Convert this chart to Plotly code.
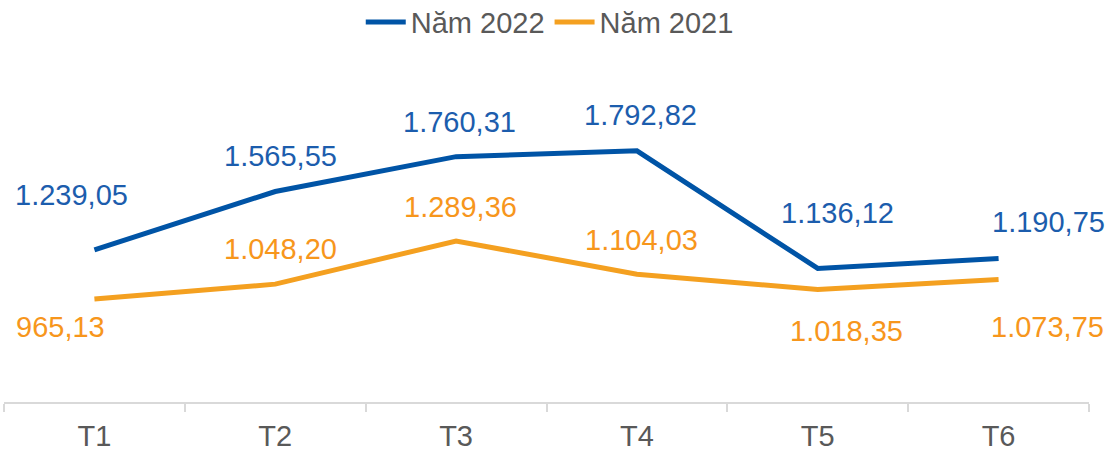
import plotly.graph_objects as go

categories = ["T1", "T2", "T3", "T4", "T5", "T6"]
nam_2022 = [1239.05, 1565.55, 1760.31, 1792.82, 1136.12, 1190.75]
nam_2021 = [965.13, 1048.20, 1289.36, 1104.03, 1018.35, 1073.75]
labels_2022 = ["1.239,05", "1.565,55", "1.760,31", "1.792,82", "1.136,12", "1.190,75"]
labels_2021 = ["965,13", "1.048,20", "1.289,36", "1.104,03", "1.018,35", "1.073,75"]

# label offsets (pixels): x right, y down
off_2022 = [(-23, -55), (5, -36), (3, -35), (4, -36), (20, -55), (50, -37)]
off_2021 = [(-34, 28), (5, -35), (4, -34), (5, -34), (29, 42), (49, 47)]

BLUE = "#0054A6"
ORANGE = "#F4A020"
BLUE_T = "#1C5DAD"
ORANGE_T = "#F7961C"
FONT = "Liberation Sans, Arial"

fig = go.Figure()
fig.add_trace(go.Scatter(x=categories, y=nam_2022, mode="lines", name="Năm 2022",
                         line=dict(color=BLUE, width=5)))
fig.add_trace(go.Scatter(x=categories, y=nam_2021, mode="lines", name="Năm 2021",
                         line=dict(color=ORANGE, width=5)))

ann = []
for c, v, t, (dx, dy) in zip(categories, nam_2022, labels_2022, off_2022):
    ann.append(dict(x=c, y=v, text=t, showarrow=False, xshift=dx, yshift=-dy,
                    font=dict(color=BLUE_T, size=29, family=FONT)))
for c, v, t, (dx, dy) in zip(categories, nam_2021, labels_2021, off_2021):
    ann.append(dict(x=c, y=v, text=t, showarrow=False, xshift=dx, yshift=-dy,
                    font=dict(color=ORANGE_T, size=29, family=FONT)))

fig.update_layout(
    width=1109, height=451,
    margin=dict(l=4, r=20, t=60, b=49, autoexpand=False),
    paper_bgcolor="white", plot_bgcolor="white",
    font=dict(family=FONT, color="#595959", size=29),
    showlegend=True,
    legend=dict(orientation="h", x=0.503, xanchor="center", yref="container",
                y=0.951, yanchor="middle", font=dict(size=29, color="#595959"),
                itemwidth=40, tracegroupgap=0),
    annotations=ann,
)
fig.update_xaxes(type="category", range=[-0.5, 5.5], tickson="boundaries",
                 ticks="outside", ticklen=8, tickcolor="#D9D9D9", tickwidth=2,
                 showline=True, linecolor="#D9D9D9", linewidth=2, automargin=False,
                 showgrid=False, zeroline=False, ticklabelstandoff=7,
                 tickfont=dict(size=29, color="#595959"))
fig.update_yaxes(range=[390, 2300], visible=False, showgrid=False, zeroline=False,
                 automargin=False)

fig.write_html("out.html", config={"displayModeBar": False},
               post_script="document.body.style.margin='0';document.body.style.padding='0';")
